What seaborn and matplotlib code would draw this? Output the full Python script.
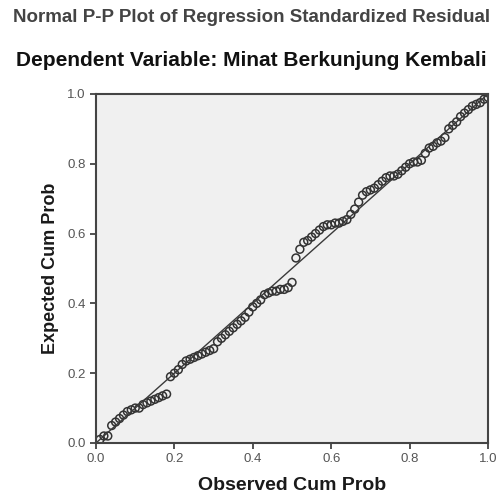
import matplotlib
matplotlib.use("Agg")
import matplotlib.pyplot as plt
import pandas as pd
import seaborn as sns

# Normal P-P plot (SPSS style): observed cum prob vs expected cum prob
observed_cum_prob = [
    0.01, 0.02, 0.03, 0.04, 0.05, 0.06, 0.07, 0.08, 0.09, 0.10,
    0.11, 0.12, 0.13, 0.14, 0.15, 0.16, 0.17, 0.18, 0.19, 0.20,
    0.21, 0.22, 0.23, 0.24, 0.25, 0.26, 0.27, 0.28, 0.29, 0.30,
    0.31, 0.32, 0.33, 0.34, 0.35, 0.36, 0.37, 0.38, 0.39, 0.40,
    0.41, 0.42, 0.43, 0.44, 0.45, 0.46, 0.47, 0.48, 0.49, 0.50,
    0.51, 0.52, 0.53, 0.54, 0.55, 0.56, 0.57, 0.58, 0.59, 0.60,
    0.61, 0.62, 0.63, 0.64, 0.65, 0.66, 0.67, 0.68, 0.69, 0.70,
    0.71, 0.72, 0.73, 0.74, 0.75, 0.76, 0.77, 0.78, 0.79, 0.80,
    0.81, 0.82, 0.83, 0.84, 0.85, 0.86, 0.87, 0.88, 0.89, 0.90,
    0.91, 0.92, 0.93, 0.94, 0.95, 0.96, 0.97, 0.98, 0.99, 1.00,
]
expected_cum_prob = [
    0.01, 0.02, 0.02, 0.05, 0.06, 0.07, 0.08, 0.09, 0.095, 0.10,
    0.10, 0.11, 0.115, 0.12, 0.125, 0.13, 0.135, 0.14, 0.19, 0.20,
    0.21, 0.225, 0.235, 0.24, 0.245, 0.25, 0.255, 0.26, 0.265, 0.27,
    0.29, 0.30, 0.31, 0.32, 0.33, 0.34, 0.35, 0.36, 0.375, 0.39,
    0.40, 0.41, 0.425, 0.43, 0.435, 0.435, 0.44, 0.44, 0.445, 0.46,
    0.53, 0.555, 0.575, 0.58, 0.59, 0.60, 0.61, 0.62, 0.625, 0.625,
    0.63, 0.63, 0.635, 0.64, 0.655, 0.67, 0.69, 0.71, 0.72, 0.725,
    0.73, 0.74, 0.75, 0.76, 0.765, 0.765, 0.77, 0.78, 0.79, 0.80,
    0.805, 0.805, 0.81, 0.83, 0.845, 0.85, 0.86, 0.865, 0.875, 0.90,
    0.91, 0.92, 0.935, 0.945, 0.955, 0.965, 0.97, 0.975, 0.985, 0.99,
]
diag_x = [0.0, 1.0]
diag_y = [0.0, 1.0]
tick_values = [0.0, 0.2, 0.4, 0.6, 0.8, 1.0]
tick_labels = ["0.0", "0.2", "0.4", "0.6", "0.8", "1.0"]

sns.set_style("ticks")
plt.rcParams["font.family"] = ["Liberation Sans", "DejaVu Sans"]

df = pd.DataFrame({"observed": observed_cum_prob, "expected": expected_cum_prob})

fig = plt.figure(figsize=(5.03, 4.97), dpi=100)
ax = fig.add_axes([0.1909, 0.1087, 0.7793, 0.7023])
ax.set_facecolor("#f0f0f0")

sns.lineplot(x=diag_x, y=diag_y, ax=ax, color="#3a3a3a", linewidth=1.0)
sns.scatterplot(data=df, x="observed", y="expected", ax=ax, marker="o",
                s=32, facecolor="none", edgecolor="#333333", linewidth=1.1)

ax.set_xlim(0, 1)
ax.set_ylim(0, 1)
ax.set_xticks(tick_values)
ax.set_xticklabels(tick_labels)
ax.set_yticks(tick_values)
ax.set_yticklabels(tick_labels)
ax.tick_params(axis="both", direction="out", length=4, width=1.2,
               color="#333333", labelcolor="#555555", labelsize=9.5)
for spine in ax.spines.values():
    spine.set_visible(True)
    spine.set_color("#444444")
    spine.set_linewidth(1.5)

ax.set_xlabel("Observed Cum Prob", fontsize=14, fontweight="bold", color="#1a1a1a", labelpad=8)
ax.set_ylabel("Expected Cum Prob", fontsize=13, fontweight="bold", color="#1a1a1a", labelpad=6)

fig.text(0.5, 1 - 18 / 497, "Normal P-P Plot of Regression Standardized Residual",
         ha="center", va="center", fontsize=13.5, fontweight="bold", color="#444444")
fig.text(0.5, 1 - 60 / 497, "Dependent Variable: Minat Berkunjung Kembali",
         ha="center", va="center", fontsize=15, fontweight="bold", color="#111111")

fig.savefig("out.png", dpi=100)
